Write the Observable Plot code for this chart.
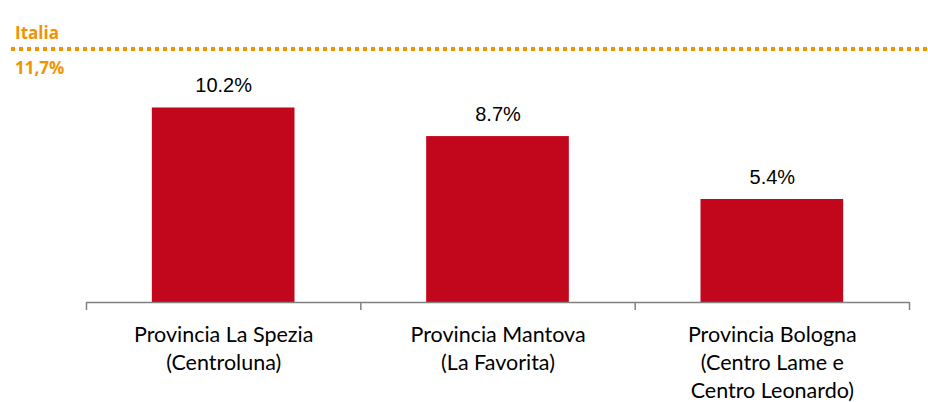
<!DOCTYPE html>
<html>
<head>
<meta charset="utf-8">
<script src="https://cdn.jsdelivr.net/npm/d3@7"></script>
<script src="https://cdn.jsdelivr.net/npm/@observablehq/plot@0.6"></script>
<style>
  html, body { margin: 0; padding: 0; background: #fff; }
  #wrap { position: relative; width: 928px; height: 402px; overflow: hidden; }
  #ref { position: absolute; left: 0; top: 0; width: 928px; height: 90px; pointer-events: none;
         font-family: "Open Sans", sans-serif; font-weight: 700; color: #F39200; font-size: 17px; }
  #ref .lbl { position: absolute; left: 15px; line-height: 1; }
  #ref .top { top: 24px; }
  #ref .bot { top: 59px; }
  #ref .dots { position: absolute; left: 11px; right: 0; top: 47px; height: 4px;
               background: repeating-linear-gradient(to right, #F39200 0 4px, transparent 4px 8px); }
</style>
</head>
<body>
<div id="wrap"><div id="chart"></div>
  <div id="ref"><div class="lbl top" id="refName"></div><div class="dots"></div><div class="lbl bot" id="refValue"></div></div>
</div>
<script>
// Data
const categories = [
  "Provincia La Spezia\n(Centroluna)",
  "Provincia Mantova\n(La Favorita)",
  "Provincia Bologna\n(Centro Lame e\nCentro Leonardo)"
];
const values = [10.2, 8.7, 5.4];
const referenceName = "Italia";
const referenceLabel = "11,7%";

document.getElementById("refName").textContent = referenceName;
document.getElementById("refValue").textContent = referenceLabel;

const data = categories.map((c, i) => ({ i, category: c, value: values[i] }));
const boundaries = d3.range(categories.length + 1);

const chart = Plot.plot({
  width: 928,
  height: 402,
  marginLeft: 86,
  marginRight: 19,
  marginTop: 35,
  marginBottom: 100,
  x: { type: "linear", domain: [0, categories.length], axis: null },
  y: { domain: [0, 14], axis: null },
  style: { background: "transparent" },
  marks: [
    Plot.rectY(data, { x1: d => d.i + 0.24, x2: d => d.i + 0.76, y: "value", fill: "#C2061C" }),
    Plot.ruleY([0], { stroke: "#808080", strokeWidth: 1.5 }),
    Plot.axisX(boundaries, { tickSize: 8, tickFormat: () => "", stroke: "#808080", strokeWidth: 1.5 }),
    Plot.text(data, {
      x: d => d.i + 0.5, y: "value", text: d => d.value.toFixed(1) + "%",
      dy: -16, lineAnchor: "bottom", fontSize: 20, fill: "#000",
      fontFamily: "Liberation Sans, Arial, sans-serif"
    }),
    Plot.text(data, {
      x: d => d.i + 0.5, y: 0, text: "category",
      lineAnchor: "top", dy: 20, lineHeight: 1.3, fontSize: 21.5, fill: "#000",
      fontFamily: "Lato, sans-serif"
    })
  ]
});
document.getElementById("chart").appendChild(chart);
</script>
</body>
</html>
